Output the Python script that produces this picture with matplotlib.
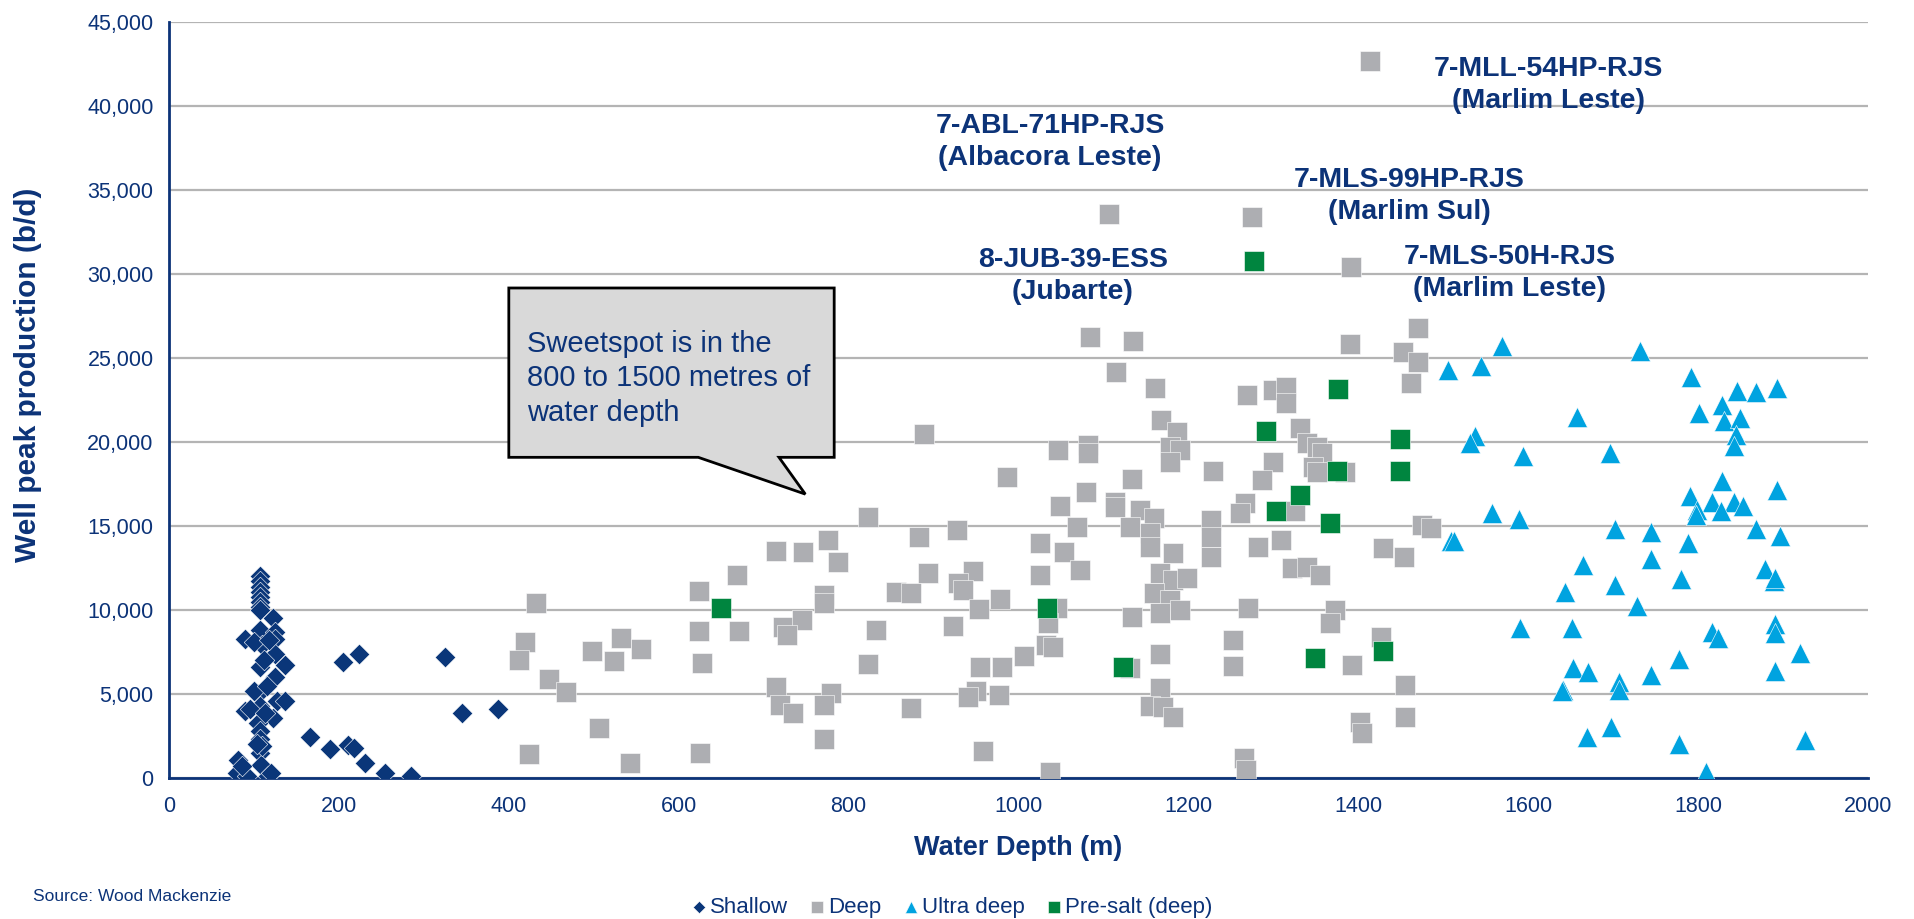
import matplotlib
matplotlib.use("Agg")
import matplotlib.pyplot as plt
from matplotlib.patches import Polygon
from matplotlib.ticker import FuncFormatter, MultipleLocator

plt.rcParams['font.family'] = ['Liberation Sans', 'DejaVu Sans']

NAVY = '#0C3378'
GRID = '#B4B4B4'

# water depth (m) / well peak production (b/d)
shallow_depth = [107, 107, 107, 107, 107, 107, 107, 107, 90, 107, 122, 125, 110, 125, 125, 137,
                 107, 125, 105, 127, 137, 89, 122, 107, 105, 107, 107, 107, 81, 80, 92, 108,
                 117, 86, 100, 115, 112, 100, 118, 95, 113, 110, 104, 120,
                 166, 190, 205, 224, 211, 218, 231, 254, 285, 325, 345, 387]
shallow_prod = [12000, 11700, 11400, 11100, 10800, 10500, 10200, 10000, 8300, 8800, 9500, 8700,
                7900, 8300, 7400, 6700, 6600, 6000, 5000, 4600, 4600, 4000, 3600, 4300, 3300,
                2800, 2300, 1500, 1100, 300, 100, 800, 100, 700, 5200, 5500, 7000, 8100, 8200,
                4100, 3900, 1900, 2000, 300,
                2440, 1700, 6900, 7400, 1950, 1800, 900, 300, 150, 7200, 3850, 4100]

deep_depth = [432, 419, 412, 424, 447, 467, 498, 506, 532, 524, 556, 543, 624, 669, 624, 671,
              627, 625, 715, 746, 723, 745, 727, 715, 719, 734,
              1084, 889, 1047, 1082, 1082, 986, 1080, 1049, 1069, 823, 883, 928, 776, 788,
              1025, 1053, 1072, 1025, 893, 946, 856, 874, 771, 771, 929, 935, 978, 954, 832,
              923, 823, 955, 981, 1006, 1032, 1041, 1045, 1035, 779, 771, 873, 950, 941, 977,
              771, 958, 1037,
              1135, 1390, 1115, 1161, 1269, 1300, 1315, 1315, 1168, 1186, 1178, 1190, 1178,
              1331, 1339, 1351, 1357, 1347, 1351, 1384, 1229, 1300, 1286, 1133, 1114, 1114,
              1143, 1159, 1131, 1155, 1155, 1182, 1227, 1227, 1227, 1266, 1261, 1282, 1309,
              1325, 1429, 1322, 1339, 1355, 1166, 1182, 1198, 1160, 1178, 1166, 1190, 1133,
              1270, 1373, 1367, 1253, 1252, 1167, 1131, 1393, 1427, 1166, 1155, 1170, 1182,
              1402, 1404, 1265, 1268,
              1470, 1453, 1470, 1462, 1475, 1485, 1454, 1455, 1455,
              1414, 1106, 1275, 1391]
deep_prod = [10400, 8100, 7000, 1430, 5900, 5140, 7580, 2960, 8310, 6960, 7660, 870, 11130, 12080,
             8770, 8750, 6830, 1510, 13530, 13470, 9000, 9400, 8500, 5440, 4350, 3870,
             26270, 20460, 19520, 19800, 19350, 17940, 17040, 16210, 14960, 15520, 14330, 14760,
             14170, 12880, 13970, 13470, 12380, 12080, 12180, 12320, 11090, 11000, 10890, 10400,
             11590, 11190, 10650, 10040, 8810, 9050, 6790, 6630, 6590, 7280, 7920, 7820, 10100,
             9230, 5040, 4340, 4190, 5180, 4840, 4940, 2320, 1630, 380,
             25990, 25830, 24190, 23230, 22800, 23100, 23290, 22330, 21310, 20610, 19720, 19520,
             18830, 20830, 19920, 19720, 19330, 18530, 18230, 18230, 18290, 18790, 17740, 17800,
             16450, 16140, 15950, 15450, 14960, 14560, 13770, 13370, 15360, 14360, 13180, 16350,
             15750, 13770, 14170, 15900, 13670, 12480, 12580, 12080, 12200, 11800, 11900, 11000,
             10600, 9800, 10000, 9560, 10100, 10000, 9200, 8210, 6670, 7380, 6550, 6730, 8390,
             5340, 4290, 4250, 3650, 3350, 2660, 1170, 480,
             26800, 25380, 24780, 23490, 15060, 14860, 13170, 5540, 3640,
             42700, 33600, 33400, 30400]

ultra_depth = [1569, 1506, 1544, 1731, 1657, 1537, 1531, 1594, 1696, 1557, 1589, 1509, 1513, 1702,
               1664, 1643, 1702, 1728, 1590, 1652, 1653, 1670, 1641, 1640, 1707, 1707, 1697, 1669,
               1791, 1846, 1868, 1893, 1828, 1801, 1831, 1849, 1844, 1842, 1828, 1893, 1790, 1816,
               1842, 1853, 1799, 1797, 1827, 1744, 1788, 1868, 1896, 1745, 1780, 1879, 1889, 1891,
               1816, 1823, 1890, 1890, 1920, 1777, 1744, 1890, 1778, 1926, 1809]
ultra_prod = [25700, 24290, 24500, 25400, 21470, 20360, 19920, 19190, 19320, 15770, 15420, 14130,
              14130, 14820, 12660, 11050, 11470, 10260, 8950, 8950, 6530, 6290, 5260, 5200, 5730,
              5240, 3060, 2440,
              23850, 23050, 22980, 23230, 22180, 21750, 21230, 21410, 20440, 19760, 17700, 17140,
              16790, 16410, 16460, 16220, 15970, 15670, 15870, 14620, 14010, 14800, 14420, 13060,
              11870, 12440, 11700, 11900, 8670, 8310, 9170, 8610, 7420, 7070, 6130, 6370, 2020,
              2260, 340]

presalt_depth = [650, 1034, 1277, 1291, 1376, 1331, 1303, 1367, 1375, 1449, 1449, 1123, 1349, 1429]
presalt_prod = [10100, 10100, 30800, 20670, 23130, 16850, 15910, 15200, 18270, 20180, 18270,
                6630, 7160, 7580]

well_labels = ['7-MLL-54HP-RJS\n(Marlim Leste)', '7-ABL-71HP-RJS\n(Albacora Leste)',
               '7-MLS-99HP-RJS\n(Marlim Sul)', '8-JUB-39-ESS\n(Jubarte)',
               '7-MLS-50H-RJS\n(Marlim Leste)']
label_pos = [(1624, 41250), (1037, 37850), (1460, 34620), (1064, 29870), (1578, 30090)]

fig = plt.figure(figsize=(19.14, 9.19), dpi=100)
ax = fig.add_axes([0.0883, 0.1534, 0.8877, 0.8226])

ax.scatter(shallow_depth, shallow_prod, marker='D', s=110, color='#0A3679',
           edgecolor='white', linewidth=0.4, label='Shallow', zorder=3)
ax.scatter(deep_depth, deep_prod, marker='s', s=220, color='#ADAEB2',
           edgecolor='white', linewidth=0.4, label='Deep', zorder=3)
ax.scatter(ultra_depth, ultra_prod, marker='^', s=210, color='#00A3E0',
           edgecolor='white', linewidth=0.4, label='Ultra deep', zorder=3)
ax.scatter(presalt_depth, presalt_prod, marker='s', s=220, color='#00853F',
           edgecolor='white', linewidth=0.4, label='Pre-salt (deep)', zorder=4)

ax.set_xlim(0, 2000)
ax.set_ylim(0, 45000)
ax.xaxis.set_major_locator(MultipleLocator(200))
ax.yaxis.set_major_locator(MultipleLocator(5000))
ax.yaxis.set_major_formatter(FuncFormatter(lambda v, _: f'{v:,.0f}'))
ax.yaxis.grid(True, color=GRID, linewidth=1.6)
ax.set_axisbelow(True)
for side in ['top', 'right']:
    ax.spines[side].set_visible(False)
for side in ['left', 'bottom']:
    ax.spines[side].set_color(NAVY)
    ax.spines[side].set_linewidth(2)
ax.tick_params(axis='both', length=0, labelsize=15.5, labelcolor=NAVY)
ax.tick_params(axis='x', pad=13)
ax.tick_params(axis='y', pad=11)

ax.set_xlabel('Water Depth (m)', fontsize=19.5, fontweight='bold', color=NAVY)
ax.set_ylabel('Well peak production (b/d)', fontsize=21.5, fontweight='bold', color=NAVY)
ax.xaxis.set_label_coords(0.5, -0.075)
ax.yaxis.set_label_coords(-0.075, 0.533)

for txt, (lx, ly) in zip(well_labels, label_pos):
    ax.text(lx, ly, txt, ha='center', va='center', fontsize=20.5, fontweight='bold',
            color=NAVY, linespacing=1.3, zorder=5)

# speech-bubble callout
bubble = Polygon([(400, 29170), (783, 29170), (783, 19090), (718, 19090), (749, 16900),
                  (623, 19090), (400, 19090)], closed=True, facecolor='#D9D9D9',
                 edgecolor='black', linewidth=2, zorder=5, clip_on=False)
ax.add_patch(bubble)
ax.text(421, 26680, 'Sweetspot is in the\n800 to 1500 metres of\nwater depth', ha='left', va='top',
        fontsize=21, color=NAVY, linespacing=1.3, zorder=6)

fig.text(0.0175, 0.024, 'Source: Wood Mackenzie', fontsize=12.5, color=NAVY, va='center')

handles, labels = ax.get_legend_handles_labels()
fig.legend(handles, labels, loc='center', bbox_to_anchor=(0.497, 0.013), ncol=4, frameon=False,
           fontsize=16, handletextpad=0.1, columnspacing=0.9, handlelength=0.8,
           markerscale=0.6, labelcolor=NAVY)

fig.savefig('out.png', dpi=100)
